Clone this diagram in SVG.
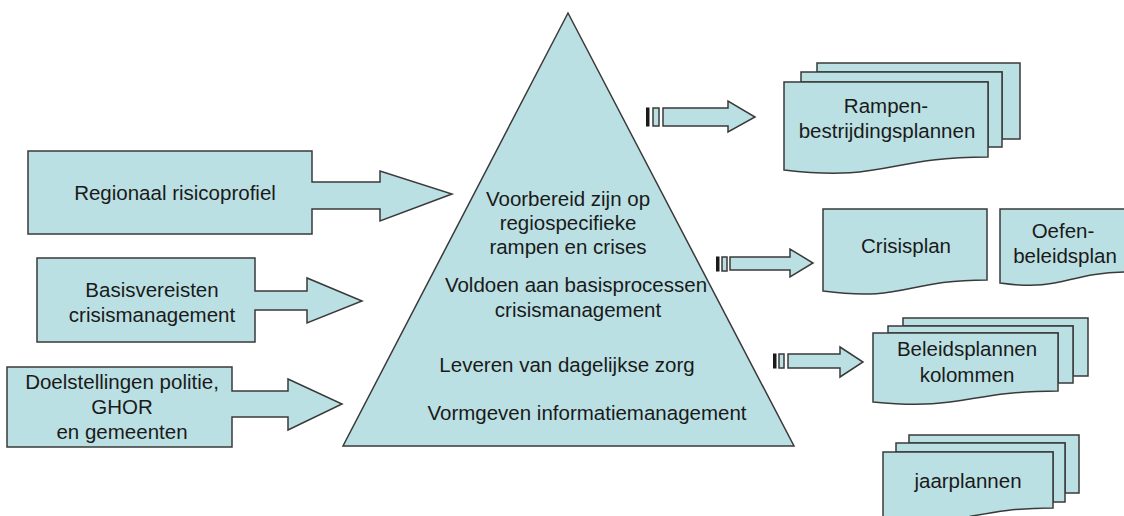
<svg xmlns="http://www.w3.org/2000/svg" width="1124" height="516" viewBox="0 0 1124 516">
<style>
.s{fill:#BBE0E3;stroke:#3a3a3a;stroke-width:1.5;stroke-linejoin:miter}
.b{fill:#1a1a1a;stroke:#1a1a1a;stroke-width:1}
.t{font-family:"Liberation Sans",Arial,sans-serif;font-size:20.5px;fill:#1a1a1a;text-anchor:middle}
</style>
<rect width="1124" height="516" fill="#ffffff"/>
<g id="pyramid">
<polygon class="s" points="568,13 794,446 343,446"/>
<text class="t" x="568" y="206">Voorbereid zijn op</text>
<text class="t" x="568" y="230">regiospecifieke</text>
<text class="t" x="568" y="254">rampen en crises</text>
<text class="t" x="576" y="292">Voldoen aan basisprocessen</text>
<text class="t" x="578" y="317">crisismanagement</text>
<text class="t" x="567" y="372">Leveren van dagelijkse zorg</text>
<text class="t" x="587" y="420">Vormgeven informatiemanagement</text>
</g>
<g id="regionaal">
<path class="s" d="M28,151 L312,151 L312,182 L380,182 L380,171 L452,194 L380,221 L380,209 L312,209 L312,234 L28,234 Z"/>
<text class="t" x="175" y="200">Regionaal risicoprofiel</text>
</g>
<g id="basisvereisten">
<path class="s" d="M37,258 L255,258 L255,291 L307,291 L307,278 L362,301 L307,323 L307,310 L255,310 L255,342 L37,342 Z"/>
<text class="t" x="152" y="297">Basisvereisten</text>
<text class="t" x="152" y="322">crisismanagement</text>
</g>
<g id="doelstellingen">
<path class="s" d="M7,367 L232,367 L232,391 L288,391 L288,379 L342,404 L288,430 L288,417 L232,417 L232,447 L7,447 Z"/>
<text class="t" x="122" y="389">Doelstellingen politie,</text>
<text class="t" x="122" y="414">GHOR</text>
<text class="t" x="122" y="439">en gemeenten</text>
</g>
<g id="connectors">
<g id="arrow1">
<rect class="b" x="646.5" y="108" width="2.5" height="18"/>
<rect class="s" x="653" y="108" width="6" height="18"/>
<path class="s" d="M663,108 L728,108 L728,101 L755,117 L728,132 L728,126 L663,126 Z"/>
</g>
<g id="arrow2">
<rect class="b" x="716.5" y="257" width="2.5" height="14"/>
<rect class="s" x="722" y="257" width="5" height="14"/>
<path class="s" d="M730,257 L790,257 L790,249 L813,263 L790,277 L790,270 L730,270 Z"/>
</g>
<g id="arrow3">
<rect class="b" x="773.5" y="354" width="2.5" height="14"/>
<rect class="s" x="779" y="354" width="5" height="14"/>
<path class="s" d="M788,354 L840,354 L840,347 L863,362 L840,377 L840,368 L788,368 Z"/>
</g>
</g>
<g id="rampenbestrijdingsplannen">
<path class="s" d="M817,72 L817,63 L1020,63 L1020,139 L1002,139 L1002,72 Z"/>
<path class="s" d="M801,82 L801,72 L1002,72 L1002,147 L988,147 L988,82 Z"/>
<path class="s" d="M784,82 L988,82 L988,157 C886,157 886,182 784,170 Z"/>
<text class="t" x="886" y="113">Rampen-</text>
<text class="t" x="887" y="138">bestrijdingsplannen</text>
</g>
<g id="crisisplan">
<path class="s" d="M823,209 L987,209 L987,280 C905,280 905,302 823,291 Z"/>
<text class="t" x="906" y="253">Crisisplan</text>
</g>
<g id="oefenbeleidsplan">
<path class="s" d="M1000,209 L1130,209 L1130,272 C1065,272 1065,292 1000,283 Z"/>
<text class="t" x="1063" y="238">Oefen-</text>
<text class="t" x="1065" y="263">beleidsplan</text>
</g>
<g id="beleidsplannen">
<path class="s" d="M903,326 L903,318 L1088,318 L1088,376 L1073,376 L1073,326 Z"/>
<path class="s" d="M888,333 L888,326 L1073,326 L1073,383 L1058,383 L1058,333 Z"/>
<path class="s" d="M873,333 L1058,333 L1058,391 C965,391 965,411 873,402 Z"/>
<text class="t" x="967" y="356">Beleidsplannen</text>
<text class="t" x="967" y="382">kolommen</text>
</g>
<g id="jaarplannen">
<path class="s" d="M909,443 L909,435 L1079,435 L1079,493 L1065,493 L1065,443 Z"/>
<path class="s" d="M896,452 L896,443 L1065,443 L1065,502 L1053,502 L1053,452 Z"/>
<path class="s" d="M883,452 L1053,452 L1053,508 C968,508 968,528 883,519 Z"/>
<text class="t" x="968" y="488">jaarplannen</text>
</g>
</svg>
